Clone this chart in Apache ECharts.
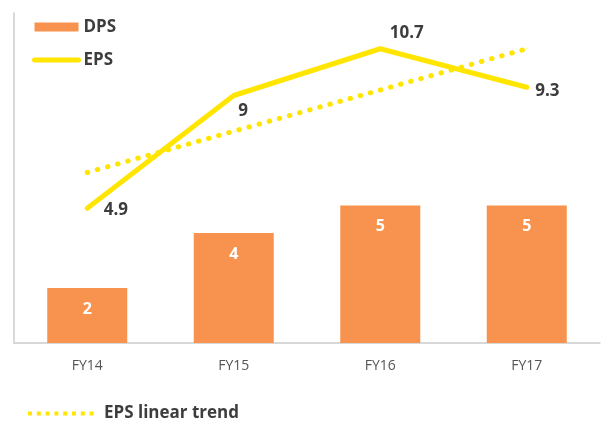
<!DOCTYPE html>
<html><head><meta charset="utf-8">
<script src="https://cdn.jsdelivr.net/npm/echarts@6/dist/echarts.min.js"></script>
<style>html,body{margin:0;padding:0;background:#fff}#c{width:605px;height:423px}</style>
</head><body><div id="c"></div>
<script>
const categories = ['FY14', 'FY15', 'FY16', 'FY17'];
const dps = [2, 4, 5, 5];
const eps = [4.9, 9, 10.7, 9.3];
const epsTrend = [6.2, 7.7, 9.2, 10.7];
const epsLabelOffsets = [[16, 2], [4, 16], [9, -16], [8, 4]];

const FONT = '"Open Sans", "DejaVu Sans", sans-serif';
const YELLOW = '#FFE500';
const ORANGE = '#F7934E';
const TEXT = '#3d3d3d';

const chart = echarts.init(document.getElementById('c'), null, {renderer: 'canvas'});
chart.setOption({
  animation: false,
  textStyle: {fontFamily: FONT},
  grid: {left: 14, right: 5, top: 13, bottom: 80, containLabel: false},
  legend: [
    {
      orient: 'vertical', left: 27, top: 12, itemWidth: 44, itemHeight: 9, itemGap: 13,
      textStyle: {fontFamily: FONT, fontSize: 17, fontWeight: 'bold', color: TEXT, lineHeight: 20},
      data: [
        {name: 'DPS', icon: 'rect'},
        {name: 'EPS', itemStyle: {opacity: 0}, lineStyle: {width: 5, cap: 'round', color: YELLOW}}
      ]
    },
    {
      left: 21, top: 400, itemWidth: 67, itemHeight: 9,
      textStyle: {fontFamily: FONT, fontSize: 17, fontWeight: 'bold', color: TEXT, padding: [0, 0, 0, 4]},
      data: [{name: 'EPS linear trend', itemStyle: {opacity: 0},
              lineStyle: {width: 4, type: [4, 4.8], cap: 'butt', color: YELLOW}}]
    }
  ],
  xAxis: {
    type: 'category', data: categories,
    axisLine: {lineStyle: {color: '#cccccc', width: 1.5}},
    axisTick: {show: false},
    axisLabel: {color: '#555', fontSize: 14, margin: 16, fontFamily: FONT}
  },
  yAxis: {
    type: 'value', min: 0, max: 12, interval: 2,
    axisLine: {show: true, lineStyle: {color: '#cccccc', width: 1.5}},
    axisTick: {show: false}, axisLabel: {show: false}, splitLine: {show: false}
  },
  series: [
    {
      name: 'DPS', type: 'bar', data: dps, barWidth: 80,
      itemStyle: {color: ORANGE},
      label: {show: true, position: 'insideTop', distance: 13, color: '#fff',
              fontSize: 16, fontWeight: 'bold', fontFamily: FONT}
    },
    {
      name: 'EPS linear trend', type: 'line', data: epsTrend,
      symbol: 'circle', symbolSize: 1, itemStyle: {color: YELLOW},
      lineStyle: {color: YELLOW, width: 5, type: [0.5, 10], cap: 'round'},
      z: 3
    },
    {
      name: 'EPS', type: 'line', data: eps.map((v, i) => ({
        value: v,
        label: {offset: epsLabelOffsets[i]}
      })),
      symbol: 'circle', symbolSize: 1, itemStyle: {color: YELLOW},
      lineStyle: {color: YELLOW, width: 5, cap: 'round', join: 'round'},
      label: {show: true, position: 'right', distance: 0, color: TEXT,
              fontSize: 17, fontWeight: 'bold', fontFamily: FONT},
      z: 4
    }
  ]
});
</script></body></html>
